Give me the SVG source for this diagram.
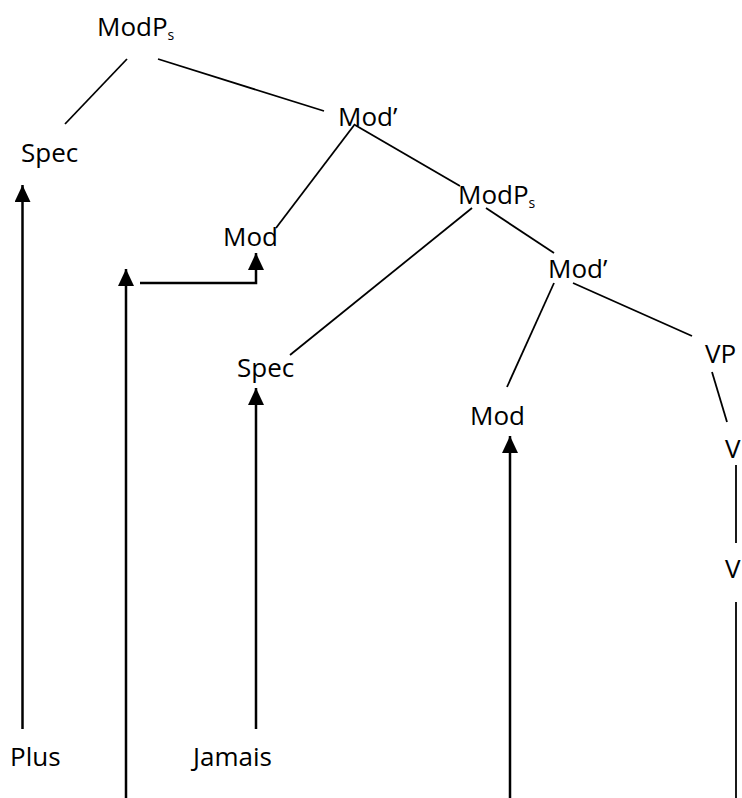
<svg xmlns="http://www.w3.org/2000/svg" width="742" height="798" viewBox="0 0 742 798">
<style>
text{font-family:"Open Sans","Noto Sans","DejaVu Sans",sans-serif;font-size:26px;fill:#000}
.sub{font-size:14px}
.tree line{stroke:#000;stroke-width:1.8}
.mv line,.mv path{stroke:#000;stroke-width:2.5;fill:none}
</style>
<defs>
<marker id="ah" markerUnits="userSpaceOnUse" markerWidth="18" markerHeight="16" refX="17" refY="8" orient="auto" viewBox="0 0 18 16">
<path d="M0,0 L17,8 L0,16 Z" fill="#000"/>
</marker>
</defs>
<rect width="742" height="798" fill="#fff"/>
<g id="n-modps1"><text x="97" y="36">ModP<tspan class="sub" dy="4">s</tspan></text></g>
<g id="n-spec1"><text x="21" y="162">Spec</text></g>
<g id="n-modbar1"><text x="338" y="126">Mod’</text></g>
<g id="n-mod1"><text x="223" y="246">Mod</text></g>
<g id="n-modps2"><text x="458" y="204">ModP<tspan class="sub" dy="4">s</tspan></text></g>
<g id="n-spec2"><text x="237" y="377">Spec</text></g>
<g id="n-modbar2"><text x="548" y="278">Mod’</text></g>
<g id="n-mod2"><text x="470" y="425">Mod</text></g>
<g id="n-vp"><text x="705" y="363">VP</text></g>
<g id="n-v1"><text x="725" y="458">V</text></g>
<g id="n-v2"><text x="725" y="578">V</text></g>
<g id="n-plus"><text x="10" y="766">Plus</text></g>
<g id="n-jamais"><text x="193" y="766">Jamais</text></g>
<g id="connectors">
<g class="tree">
<line x1="127" y1="59" x2="65" y2="124"/>
<line x1="158" y1="59" x2="324" y2="111"/>
<line x1="355" y1="124" x2="276" y2="228"/>
<line x1="355" y1="125" x2="460" y2="186"/>
<line x1="472" y1="208" x2="290" y2="355"/>
<line x1="486" y1="208" x2="554" y2="253"/>
<line x1="554" y1="283" x2="507" y2="387"/>
<line x1="573" y1="283" x2="692" y2="336"/>
<line x1="712" y1="372" x2="727" y2="422"/>
<line x1="736" y1="465" x2="736" y2="543"/>
<line x1="736" y1="602" x2="736" y2="798"/>
</g>
<g class="mv">
<line x1="22.5" y1="729" x2="22.5" y2="185" marker-end="url(#ah)"/>
<line x1="126" y1="798" x2="126" y2="269" marker-end="url(#ah)"/>
<path d="M140,283 H256 V253" marker-end="url(#ah)"/>
<line x1="256" y1="729" x2="256" y2="388" marker-end="url(#ah)"/>
<line x1="510" y1="798" x2="510" y2="436" marker-end="url(#ah)"/>
</g>
</g>
</svg>
